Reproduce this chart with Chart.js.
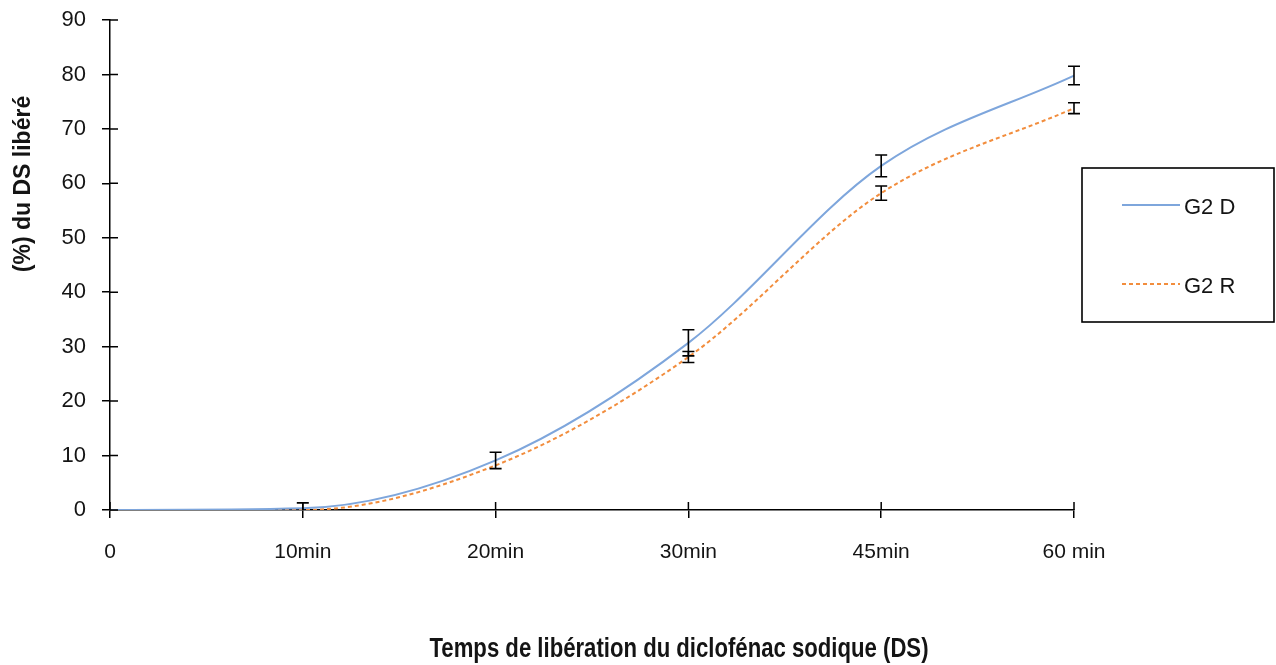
<!DOCTYPE html>
<html>
<head>
<meta charset="utf-8">
<script src="https://cdn.jsdelivr.net/npm/chart.js@4"></script>
<style>
  html, body { margin: 0; padding: 0; background: #fff; }
</style>
</head>
<body>
<canvas id="releaseChart" width="1276" height="665"></canvas>
<script>
// temps de prélèvement (catégories)
const times = ['0', '10min', '20min', '30min', '45min', '60 min'];
// % du DS libéré
const g2d = [0, 0.3, 9.1, 30.7, 63.2, 79.8];
const g2dErr = [0, 1, 1.5, 2.4, 2, 1.7];
const g2r = [0, 0, 8.2, 28.1, 58.2, 73.8];
const g2rErr = [0, 0, 0, 1, 1.3, 1];
const yTicks = [0, 10, 20, 30, 40, 50, 60, 70, 80, 90];

const regular = "'Liberation Sans', Arial, sans-serif";
const textColor = '#141414';

const errorSets = [g2dErr, g2rErr];

// barres d'erreur dessinées avec les échelles du graphique
const errorBarPlugin = {
    id: 'errorBars',
    afterDatasetsDraw(chart) {
        const { ctx, chartArea, scales: { x, y } } = chart;
        ctx.save();
        ctx.beginPath();
        ctx.rect(chartArea.left, chartArea.top - 5, chartArea.width + 10, chartArea.height + 5);
        ctx.clip();
        ctx.strokeStyle = '#000';
        ctx.lineWidth = 1.6;
        chart.data.datasets.forEach((ds, d) => {
            ds.data.forEach((v, i) => {
                const e = errorSets[d][i];
                if (!e) return;
                const px = x.getPixelForValue(i);
                const top = y.getPixelForValue(v + e);
                const bot = y.getPixelForValue(v - e);
                ctx.beginPath();
                ctx.moveTo(px, top); ctx.lineTo(px, bot);
                ctx.moveTo(px - 6, top); ctx.lineTo(px + 6, top);
                ctx.moveTo(px - 6, bot); ctx.lineTo(px + 6, bot);
                ctx.stroke();
            });
        });
        ctx.restore();
    }
};

// petites graduations vers l'intérieur + titres des axes + légende encadrée
const decorPlugin = {
    id: 'decor',
    afterDraw(chart) {
        const { ctx, chartArea, scales: { x, y } } = chart;
        ctx.save();
        ctx.strokeStyle = '#000';
        ctx.lineWidth = 1.5;
        ctx.beginPath();
        y.ticks.forEach((t, i) => {
            const py = y.getPixelForTick(i);
            ctx.moveTo(chartArea.left, py); ctx.lineTo(chartArea.left + 8, py);
        });
        x.ticks.forEach((t, i) => {
            const px = x.getPixelForTick(i);
            ctx.moveTo(px, chartArea.bottom); ctx.lineTo(px, chartArea.bottom - 8);
        });
        ctx.stroke();

        ctx.fillStyle = textColor;
        ctx.textAlign = 'center';
        ctx.textBaseline = 'middle';
        // titre X : police étroite simulée
        ctx.save();
        ctx.translate(679, 650);
        ctx.scale(0.82, 1);
        ctx.font = "bold 27px " + regular;
        ctx.fillText('Temps de libération du diclofénac sodique (DS)', 0, 0);
        ctx.restore();

        ctx.save();
        ctx.translate(24, 184);
        ctx.rotate(-Math.PI / 2);
        ctx.font = "bold 23px " + regular;
        ctx.fillText('(%) du DS libéré', 0, 0);
        ctx.restore();

        // légende
        ctx.lineWidth = 1.6;
        ctx.strokeRect(1082, 168, 192, 154);
        const rows = [205, 284];
        chart.data.datasets.forEach((ds, d) => {
            ctx.save();
            ctx.strokeStyle = ds.borderColor;
            ctx.lineWidth = ds.borderWidth;
            ctx.setLineDash(ds.borderDash || []);
            ctx.beginPath();
            ctx.moveTo(1122, rows[d]); ctx.lineTo(1180, rows[d]);
            ctx.stroke();
            ctx.restore();
            ctx.textAlign = 'left';
            ctx.font = "22px " + regular;
            ctx.fillText(ds.label, 1184, rows[d] + 3);
        });
        ctx.restore();
    }
};

const ctx = document.getElementById('releaseChart').getContext('2d');

new Chart(ctx, {
    type: 'line',
    data: {
        labels: times,
        datasets: [{
            label: 'G2 D',
            data: g2d,
            borderColor: '#7EA6DC',
            borderWidth: 2,
            pointRadius: 0,
            cubicInterpolationMode: 'monotone',
            fill: false
        }, {
            label: 'G2 R',
            data: g2r,
            borderColor: '#F28D3D',
            borderWidth: 2,
            borderDash: [4, 3],
            pointRadius: 0,
            cubicInterpolationMode: 'monotone',
            fill: false
        }]
    },
    options: {
        responsive: false,
        animation: false,
        devicePixelRatio: 1,
        layout: { padding: { top: 20, right: 202, left: 0, bottom: 0 } },
        plugins: {
            legend: { display: false },
            tooltip: { enabled: false }
        },
        scales: {
            x: {
                type: 'category',
                offset: false,
                afterFit: (scale) => {
                    scale.height = 155;
                    scale.paddingLeft = 0;
                    scale.paddingRight = 0;
                },
                grid: { drawOnChartArea: false, color: '#000', lineWidth: 1.5, tickLength: 8, offset: false },
                border: { display: true, color: '#000', width: 1.5 },
                ticks: {
                    color: textColor,
                    padding: 22,
                    maxRotation: 0,
                    font: { family: regular, size: 21 }
                }
            },
            y: {
                min: 0,
                max: 90,
                afterFit: (scale) => {
                    scale.width = 110;
                    scale.paddingTop = 0;
                    scale.paddingBottom = 0;
                },
                afterBuildTicks: (scale) => { scale.ticks = yTicks.map(v => ({ value: v })); },
                grid: { drawOnChartArea: false, color: '#000', lineWidth: 1.5, tickLength: 8 },
                border: { display: true, color: '#000', width: 1.5 },
                ticks: {
                    color: textColor,
                    padding: 16,
                    font: { family: regular, size: 22 }
                }
            }
        }
    },
    plugins: [errorBarPlugin, decorPlugin]
});
</script>
</body>
</html>
